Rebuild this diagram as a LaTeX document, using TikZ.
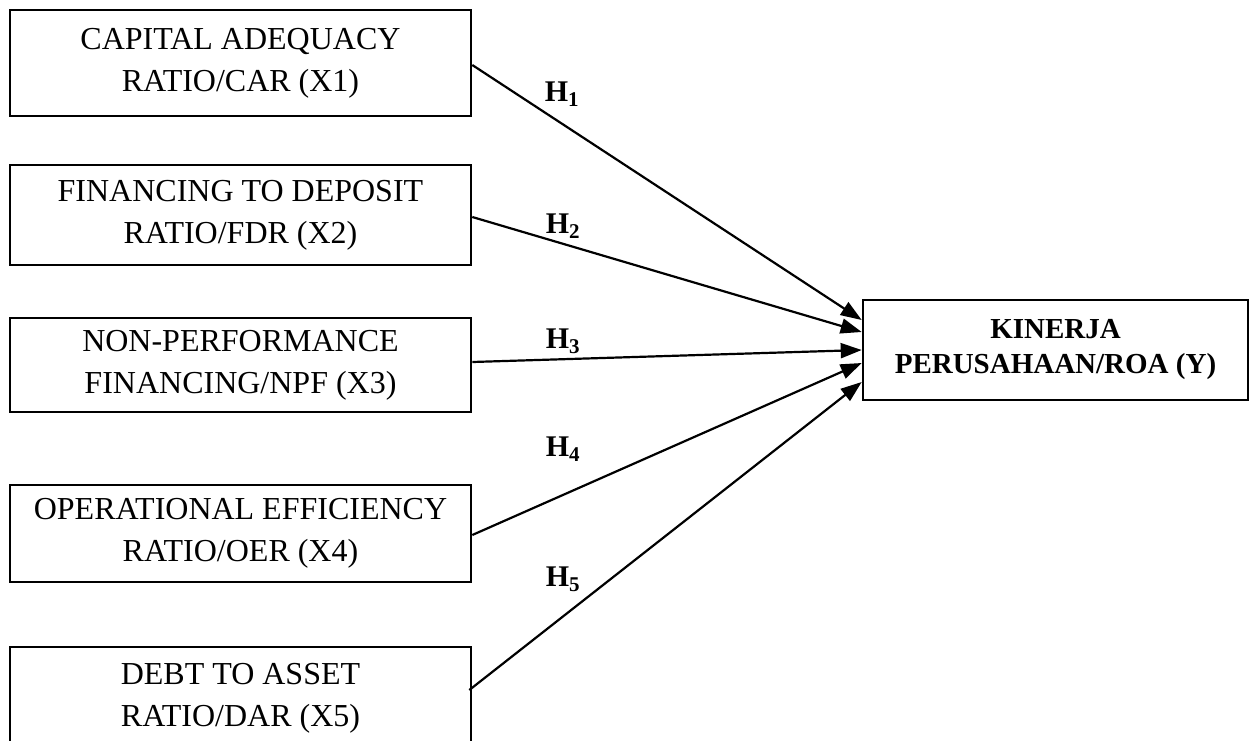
\documentclass[tikz,border=0pt]{standalone}
\usepackage{fontspec}
\setmainfont{Liberation Serif}
\usetikzlibrary{arrows.meta}
\tikzset{
  varbox/.style={draw, line width=2.6pt, minimum width=461pt, align=center, inner sep=0pt,
    font=\fontsize{32}{42}\selectfont},
  ybox/.style={draw, line width=2.6pt, minimum width=385pt, minimum height=100pt, align=center, inner sep=0pt,
    font=\fontsize{29}{35}\selectfont\bfseries},
  conn/.style={line width=2.2pt, -{Triangle[length=21pt,width=15pt]}},
  hlab/.style={font=\fontsize{30}{35}\selectfont\bfseries, inner sep=0pt}
}
\begin{document}
\begin{tikzpicture}[x=1pt,y=-1pt]
\useasboundingbox (0,0) rectangle (1251,740);
\clip (0,0) rectangle (1251,740);
\node[varbox, minimum height=106pt] (b1) at (240.5,63) {CAPITAL ADEQUACY\\RATIO/CAR (X1)};
\node[varbox, minimum height=100pt] (b2) at (240.5,215) {FINANCING TO DEPOSIT\\RATIO/FDR (X2)};
\node[varbox, minimum height=94pt] (b3) at (240.5,365) {NON-PERFORMANCE\\FINANCING/NPF (X3)};
\node[varbox, minimum height=97pt] (b4) at (240.5,533.5) {OPERATIONAL EFFICIENCY\\RATIO/OER (X4)};
\node[varbox, minimum height=120pt] (b5) at (240.5,707) {};
\node[font=\fontsize{32}{42}\selectfont, align=center, inner sep=0pt] (t5) at (240.5,698) {DEBT TO ASSET\\RATIO/DAR (X5)};
\node[ybox] (y) at (1055.5,350) {KINERJA\\PERUSAHAAN/ROA (Y)};
\draw[conn] ([yshift=-2pt]b1.east) -- ([yshift=30pt]y.west);
\draw[conn] ([yshift=-2pt]b2.east) -- ([yshift=18pt]y.west);
\draw[conn] ([yshift=3pt]b3.east) -- ([yshift=0pt]y.west);
\draw[conn] ([yshift=-1.5pt]b4.east) -- ([yshift=-13pt]y.west);
\draw[conn] ([xshift=-3pt,yshift=17pt]b5.east) -- ([yshift=-32pt]y.west);
\node[hlab] (h1) at (562,94) {H\textsubscript{1}};
\node[hlab] (h2) at (563,226) {H\textsubscript{2}};
\node[hlab] (h3) at (563,341) {H\textsubscript{3}};
\node[hlab] (h4) at (563,449) {H\textsubscript{4}};
\node[hlab] (h5) at (563,579) {H\textsubscript{5}};
\end{tikzpicture}
\end{document}
